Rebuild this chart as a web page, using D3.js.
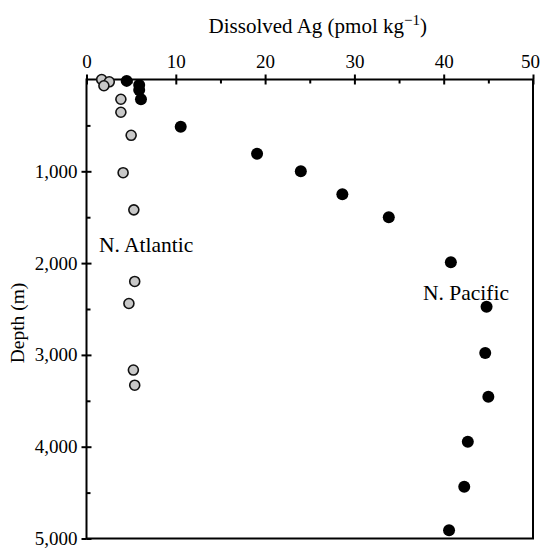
<!DOCTYPE html>
<html>
<head>
<meta charset="utf-8">
<script src="https://cdn.jsdelivr.net/npm/d3@7"></script>
<style>
  body { margin: 0; background: #fff; }
  svg text { font-family: "Liberation Serif", "DejaVu Serif", serif; fill: #000; }
</style>
</head>
<body>
<div id="chart"></div>
<script>
// Dissolved Ag profiles (pmol/kg vs depth m)
const atlanticAg    = [1.7, 2.55, 1.95, 3.85, 3.85, 5.0, 4.1, 5.3, 5.4, 4.75, 5.25, 5.4];
const atlanticDepth = [0, 25, 68, 215, 357, 608, 1015, 1420, 2200, 2440, 3165, 3330];

const pacificAg    = [4.5, 5.9, 5.9, 6.1, 10.55, 19.1, 24.0, 28.65, 33.85, 40.8, 44.8, 44.65, 45.0, 42.7, 42.3, 40.6];
const pacificDepth = [15, 60, 115, 215, 515, 810, 1000, 1250, 1500, 1990, 2475, 2980, 3455, 3945, 4435, 4910];

const xTicks = [0, 10, 20, 30, 40, 50];
const xMinor = [5, 15, 25, 35, 45];
const yTicks = [1000, 2000, 3000, 4000, 5000];
const yMinor = [500, 1500, 2500, 3500, 4500];

const width = 541, height = 548;
const margin = {top: 79.5, right: 8, bottom: 9.5, left: 86.5};

const svg = d3.select('#chart')
    .append('svg')
    .attr('width', width)
    .attr('height', height);

const x = d3.scaleLinear()
    .domain([0, 50])
    .range([margin.left, width - margin.right]);

const y = d3.scaleLinear()
    .domain([0, 5000])
    .range([margin.top, height - margin.bottom]);

// frame
svg.append('rect')
    .attr('x', x(0))
    .attr('y', y(0))
    .attr('width', x(50) - x(0))
    .attr('height', y(5000) - y(0))
    .attr('fill', 'none')
    .attr('stroke', '#000')
    .attr('stroke-width', 2);

// top axis: labels + outward ticks
const gx = svg.append('g')
    .attr('transform', `translate(0,${y(0)})`)
    .call(d3.axisTop(x).tickValues(xTicks).tickSize(5).tickPadding(7).tickFormat(d3.format('d')));
// keep the last label inside the picture
gx.selectAll('.tick text').filter(d => d === 50).attr('dx', -3);
// inward part of major ticks
svg.append('g')
    .attr('transform', `translate(0,${y(0)})`)
    .call(d3.axisTop(x).tickValues(xTicks).tickSize(-5).tickFormat(''));
// minor ticks
svg.append('g')
    .attr('transform', `translate(0,${y(0)})`)
    .call(d3.axisTop(x).tickValues(xMinor).tickSize(-4).tickFormat(''));

// left axis
svg.append('g')
    .attr('transform', `translate(${x(0)},0)`)
    .call(d3.axisLeft(y).tickValues(yTicks).tickSize(5).tickPadding(4).tickFormat(d3.format(',')));
svg.append('g')
    .attr('transform', `translate(${x(0)},0)`)
    .call(d3.axisLeft(y).tickValues(yTicks).tickSize(-5).tickFormat(''));
svg.append('g')
    .attr('transform', `translate(${x(0)},0)`)
    .call(d3.axisLeft(y).tickValues(yMinor).tickSize(-4).tickFormat(''));

svg.selectAll('.domain').remove();
svg.selectAll('.tick line').attr('stroke', '#000').attr('stroke-width', 2);
svg.selectAll('.tick text')
    .attr('font-family', '"Liberation Serif", serif')
    .attr('font-size', 19)
    .attr('fill', '#000');

// axis titles
const title = svg.append('text')
    .attr('x', (x(0) + x(50)) / 2 + 8)
    .attr('y', 33)
    .attr('text-anchor', 'middle')
    .attr('font-size', 21);
title.append('tspan').text('Dissolved Ag (pmol kg');
title.append('tspan').attr('dy', -8).attr('font-size', 15).text('\u22121');
title.append('tspan').attr('dy', 8).text(')');

svg.append('text')
    .attr('transform', `translate(24,${(y(0) + y(5000)) / 2 + 14}) rotate(-90)`)
    .attr('text-anchor', 'middle')
    .attr('font-size', 19.5)
    .text('Depth (m)');

// points: Atlantic (grey), Pacific (black)
const atlantic = atlanticAg.map((v, i) => ({ag: v, depth: atlanticDepth[i]}));
const pacific = pacificAg.map((v, i) => ({ag: v, depth: pacificDepth[i]}));

svg.append('g').selectAll('circle')
    .data(atlantic)
    .join('circle')
    .attr('cx', d => x(d.ag))
    .attr('cy', d => y(d.depth))
    .attr('r', 5)
    .attr('fill', '#c8c8c8')
    .attr('stroke', '#111')
    .attr('stroke-width', 1.6);

svg.append('g').selectAll('circle')
    .data(pacific)
    .join('circle')
    .attr('cx', d => x(d.ag))
    .attr('cy', d => y(d.depth))
    .attr('r', 6)
    .attr('fill', '#000');

// region labels
svg.append('text')
    .attr('x', 99)
    .attr('y', 252)
    .attr('font-size', 21.5)
    .text('N. Atlantic');

svg.append('text')
    .attr('x', 423)
    .attr('y', 300)
    .attr('font-size', 21.5)
    .text('N. Pacific');
</script>
</body>
</html>
